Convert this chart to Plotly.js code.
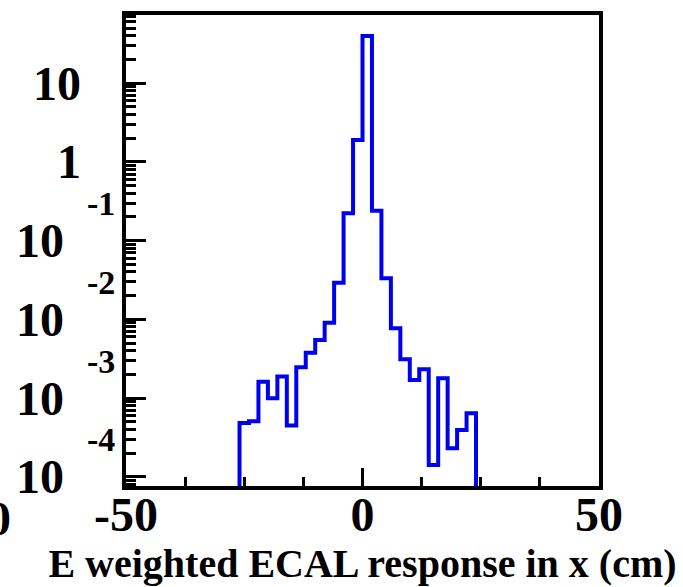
<!DOCTYPE html>
<html>
<head>
<meta charset="utf-8">
<script src="https://cdn.plot.ly/plotly-3.0.1.min.js"></script>
<style>html,body{margin:0;padding:0;background:#fff;}#plot{width:683px;height:587px;}</style>
</head>
<body>
<div id="plot"></div>
<script>
// Histogram: lower bin edges (cm), upper edge of last bin, and bin contents
const binLow = [-26,-24,-22,-20,-18,-16,-14,-12,-10,-8,-6,-4,-2,0,2,4,6,8,10,12,14,16,18,20,22];
const binHighLast = 24;
const binContent = [4.8e-4,5.07e-4,1.61e-3,9.9e-4,1.88e-3,4.47e-4,2.46e-3,3.76e-3,5.46e-3,9.05e-3,
                    0.0292,0.222,1.90,39.8,0.240,0.0332,7.69e-3,3.10e-3,1.69e-3,2.32e-3,
                    1.41e-4,1.78e-3,2.30e-4,3.92e-4,6.39e-4];
// Axis tick labels
const xTickVals = [-50, 0, 50];
const xTickText = ['-50', '0', '50'];
const yTickLog = [1, 0, -1, -2, -3, -4];
const yTickBase = ['10', '1', '10', '10', '10', '10'];
const yTickExp = ['', '', '-1', '-2', '-3', '-4'];
const xTitle = 'E weighted ECAL response in x (cm)';

const floorVal = 1e-7;
const xs = [binLow[0]].concat(binLow, [binHighLast]);
const ys = [floorVal].concat(binContent, [floorVal]);

const serif = 'Liberation Serif, Times New Roman, serif';
const annotations = [];
yTickLog.forEach((L, i) => {
  const hasExp = yTickExp[i] !== '';
  annotations.push({
    xref: 'paper', yref: 'y', x: hasExp ? -0.127 : -0.09, y: L,
    xanchor: 'right', yanchor: 'middle', showarrow: false,
    text: yTickBase[i], font: {family: serif, size: 48, color: '#000', weight: 'bold'}
  });
  if (hasExp) {
    annotations.push({
      xref: 'paper', yref: 'y', x: -0.019, y: L, yshift: 37,
      xanchor: 'right', yanchor: 'middle', showarrow: false,
      text: yTickExp[i], font: {family: serif, size: 34, color: '#000', weight: 'bold'}
    });
  }
});
// cut-off label of the neighbouring panel at the left edge
annotations.push({
  xref: 'paper', yref: 'paper', x: -0.238, y: -0.07, xanchor: 'right', yanchor: 'middle',
  showarrow: false, text: '50', font: {family: serif, size: 48, color: '#000', weight: 'bold'}
});

const trace = {
  x: xs, y: ys, type: 'scatter', mode: 'lines',
  line: {shape: 'hv', color: 'rgb(0,0,240)', width: 4},
  hoverinfo: 'skip', showlegend: false
};

const layout = {
  width: 683, height: 587,
  margin: {l: 126, r: 84, t: 15, b: 101, pad: 0},
  paper_bgcolor: '#fff', plot_bgcolor: '#fff',
  showlegend: false,
  xaxis: {
    range: [-50, 50], showgrid: false, zeroline: false,
    showline: true, linecolor: '#000', linewidth: 4, mirror: true,
    tickmode: 'array', tickvals: xTickVals, ticktext: xTickText,
    ticks: 'inside', ticklen: 18, tickwidth: 3, tickcolor: '#000',
    ticklabelstandoff: -17,
    minor: {dtick: 12.5, tick0: 0, ticks: 'inside', ticklen: 9, tickwidth: 3, tickcolor: '#000'},
    tickfont: {family: serif, size: 48, color: '#000', weight: 'bold'},
    title: {text: xTitle, font: {family: serif, size: 40, color: '#000', weight: 'bold'}, standoff: 4}
  },
  yaxis: {
    type: 'log', range: [-4.118, 1.867], showgrid: false, zeroline: false,
    showline: true, linecolor: '#000', linewidth: 4, mirror: true,
    dtick: 1, ticks: 'inside', ticklen: 20, tickwidth: 3, tickcolor: '#000',
    showticklabels: false,
    minor: {dtick: 'D1', ticks: 'inside', ticklen: 10, tickwidth: 3, tickcolor: '#000'}
  },
  annotations: annotations
};

Plotly.newPlot('plot', [trace], layout, {displayModeBar: false, staticPlot: true});
</script>
</body>
</html>
